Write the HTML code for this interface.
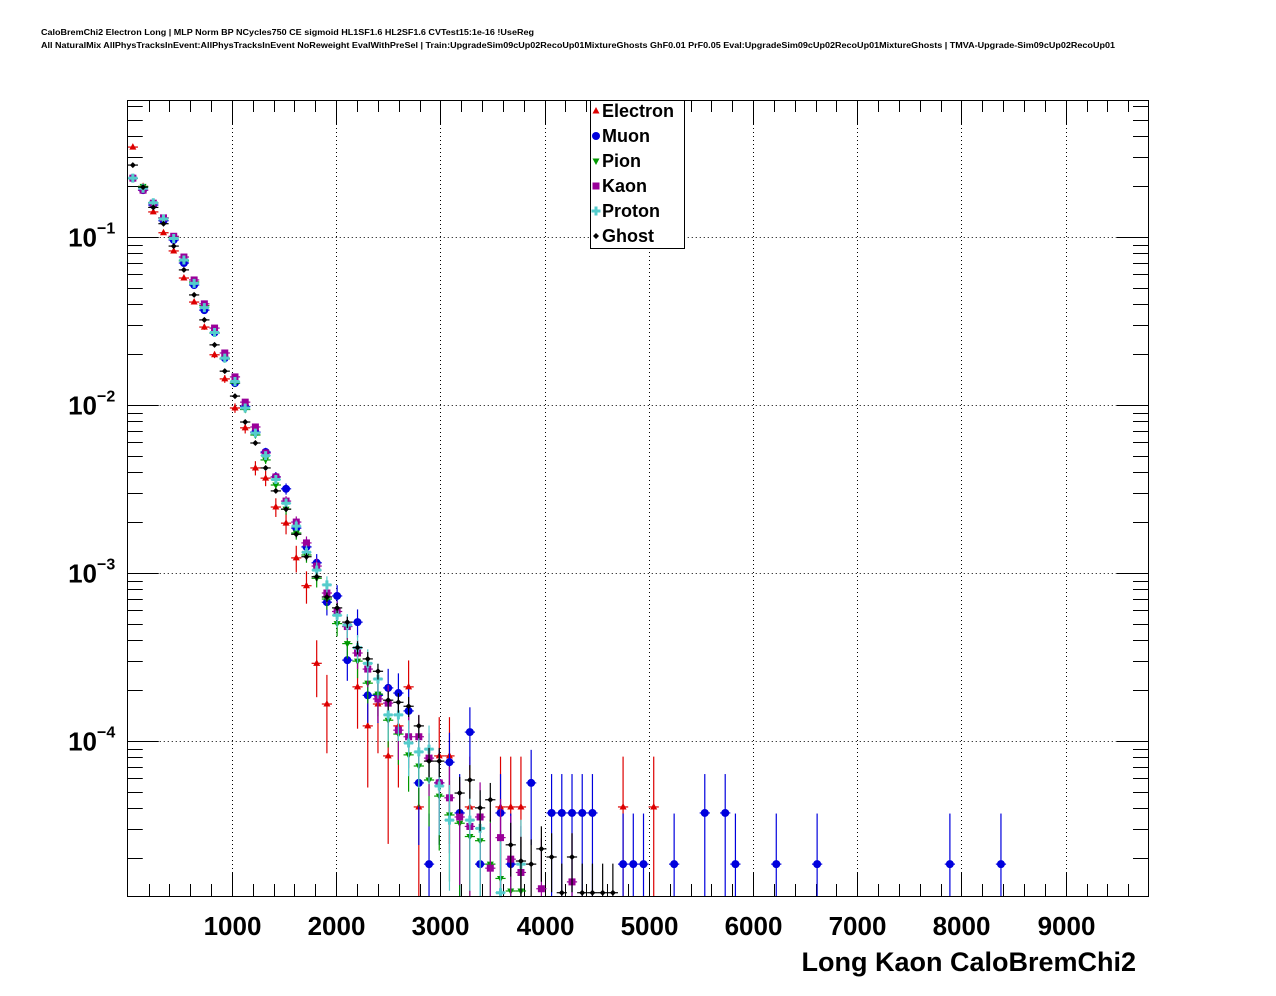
<!DOCTYPE html>
<html><head><meta charset="utf-8">
<style>
html,body{margin:0;padding:0;background:#fff;}
svg{display:block;font-family:"Liberation Sans",Arial,sans-serif;}
</style></head>
<body>
<svg id="chart" width="1276" height="996" viewBox="0 0 1276 996" xmlns="http://www.w3.org/2000/svg">
<rect x="0" y="0" width="1276" height="996" fill="#fff"/>
<text x="41" y="35" font-size="8" font-weight="bold" textLength="493" lengthAdjust="spacingAndGlyphs">CaloBremChi2 Electron Long | MLP Norm BP NCycles750 CE sigmoid HL1SF1.6 HL2SF1.6 CVTest15:1e-16 !UseReg</text>
<text x="41" y="48" font-size="8" font-weight="bold" textLength="1074" lengthAdjust="spacingAndGlyphs">All NaturalMix AllPhysTracksInEvent:AllPhysTracksInEvent NoReweight EvalWithPreSel | Train:UpgradeSim09cUp02RecoUp01MixtureGhosts GhF0.01 PrF0.05 Eval:UpgradeSim09cUp02RecoUp01MixtureGhosts | TMVA-Upgrade-Sim09cUp02RecoUp01</text>
<g id="grid"></g>
<g id="axes"></g>
<g id="marks"></g>
<rect x="127.5" y="100.5" width="1021" height="796" fill="none" stroke="#000" stroke-width="1"/>
<g id="legend"></g>
<text x="1136" y="971" font-size="27" font-weight="bold" text-anchor="end">Long Kaon CaloBremChi2</text>
</svg>
<script>
// ---- data ----
const binWidth = 98;
const xTicks = [1000,2000,3000,4000,5000,6000,7000,8000,9000];
const yDecades = [-1,-2,-3,-4];
const seriesNames = ["Electron","Muon","Pion","Kaon","Proton","Ghost"];
const electron = [.343,.2,.141,.106,.0826,.057,.041,.0291,.0199,.0143,.0096,.00731,.00422,.00367,.00247,.00198,.00123,.00084,.00029,.000166,null,null,.00021,.000123,.000166,.0000815,.000123,.00021,.0000405,null,.0000815,.0000815,null,.0000405,null,null,.0000405,.0000405,.0000405,null,null,null,null,null,null,null,null,null,.0000405,null,null,.0000405];
const muon = [.224,.19,.155,.125,.096,.07,.0518,.0367,.027,.019,.0135,.0098,.0069,.00525,.00373,.00317,.00185,.00143,.00115,.00067,.00073,.000303,.00051,.000187,.000187,.000207,.000193,.000151,.0000563,.0000185,.0000563,.0000748,.0000373,.000113,.0000185,null,.0000373,.0000185,null,.0000563,null,.0000373,.0000373,.0000373,.0000373,.0000373,null,null,.0000185,.0000185,.0000185,null,null,.0000185,null,null,.0000373,null,.0000373,.0000185,null,null,null,.0000185,null,null,null,.0000185,null,null,null,null,null,null,null,null,null,null,null,null,.0000185,null,null,null,null,.0000185];
const pion = [.224,.2,.16,.13,.1,.072,.054,.039,.0268,.0188,.0135,.0094,.00663,.00471,.00334,.0024,.00173,.00128,.00093,.0007,.0005,.00038,.000299,.000221,.00019,.000133,.00011,.0000827,.000071,.0000586,.000047,.0000363,.0000324,.000027,.0000255,.0000185,.0000152,.0000128,.0000128];
const kaon = [.224,.19,.159,.13,.101,.076,.0555,.04,.0287,.0204,.0147,.0104,.0074,.00518,.00373,.00268,.00201,.00151,.0011,.00076,.00059,.00048,.000334,.000268,.000178,.000168,.000116,.000106,.000106,.0000791,.0000563,.0000459,.0000353,.000031,.0000353,.0000175,.0000266,.0000198,.0000165,null,.0000132,null,null,.0000145];
const proton = [.224,.195,.16,.128,.098,.073,.053,.038,.027,.019,.0138,.0096,.0068,.005,.0036,.0026,.0019,.00133,.00104,.00085,.00056,.00049,.000359,.00029,.000234,.000143,.000143,.0000973,.0000861,.0000895,.000054,.0000338,null,.0000338,.0000302,null,.0000125,null,.0000185];
const ghost = [.268,.198,.15,.12,.0883,.0637,.0452,.0321,.0228,.0159,.0113,.00792,.00594,.00422,.00308,.0024,.0017,.00125,.00095,.00072,.00062,.00051,.00036,.000308,.00026,.000175,.00017,.000161,.000123,.0000759,.0000759,null,.000049,.0000586,.00004,.0000447,null,.0000241,.0000193,.0000185,.0000228,.0000204,.0000125,.0000204,.0000125,.0000125,.0000125,.0000125];
const entryWeight = [4e-5,1.85e-5,1.3e-5,1.3e-5,1.3e-5,3e-6];

// ---- layout ----
const X0=127.75, X1=1148, Y0=100, Y1=896;
const xMin=0, xMax=9790;
function xs(v){return X0+(v-xMin)/(xMax-xMin)*(X1-X0);}
function ys(v){return 237+(-1-Math.log10(v))*168;}
const NS="http://www.w3.org/2000/svg";
function mk(parent,tag,attrs){const e=document.createElementNS(NS,tag);for(const k in attrs)e.setAttribute(k,attrs[k]);parent.appendChild(e);return e;}

const grid=document.getElementById('grid'), axes=document.getElementById('axes'), marks=document.getElementById('marks'), legend=document.getElementById('legend');

xTicks.forEach(t=>{
  const x=Math.round(xs(t))+0.5;
  const g=mk(grid,'line',{x1:x,x2:x,y1:Y0,y2:Y1,stroke:'#000','stroke-width':1,'stroke-dasharray':'1,3'});
  
  
  const lb=mk(axes,'text',{x:x,y:935,'font-size':26,'font-weight':'bold','text-anchor':'middle'});
  lb.textContent=t;
  
  
});
for(let t=200;t<xMax;t+=200){
  const x=Math.round(xs(t))+0.5;
  const len=(t%1000===0)?24:12;
  const tk=mk(axes,'line',{x1:x,x2:x,y1:Y1,y2:Y1-len,stroke:'#000','stroke-width':1});
  
  
  const tk2=mk(axes,'line',{x1:x,x2:x,y1:Y0,y2:Y0+len,stroke:'#000','stroke-width':1});
  
  
}
yDecades.forEach(d=>{
  const y=Math.round(ys(Math.pow(10,d)))+0.5;
  const g=mk(grid,'line',{x1:X0,x2:X1,y1:y,y2:y,stroke:'#000','stroke-width':1,'stroke-dasharray':'1,3'});
  
  
  const lb=mk(axes,'text',{x:97,y:y+9,'font-size':26,'font-weight':'bold','text-anchor':'end'});
  lb.textContent='10';
  
  
  const ex=mk(axes,'text',{x:97,y:y-4,'font-size':16,'font-weight':'bold'});
  ex.textContent='\u2212'+(-d);
  
  
});
for(let d=0;d>=-5;d--){
  for(let m=1;m<=9;m++){
    const v=m*Math.pow(10,d-1);
    const y=ys(v);
    if(y<Y0||y>Y1)continue;
    const len=(m===1)?31:15;
    const yy=Math.round(y)+0.5;
    const t1=mk(axes,'line',{x1:X0,x2:X0+len,y1:yy,y2:yy,stroke:'#000','stroke-width':1});
    
    
    const t2=mk(axes,'line',{x1:X1,x2:X1-len,y1:yy,y2:yy,stroke:'#000','stroke-width':1});
    
    
  }
}

const colors=['#dd0000','#0000dd','#009900','#990099','#55cccc','#000000'];
const allSeries=[electron,muon,pion,kaon,proton,ghost];

function marker(parent,type,x,y,c){
  let e;
  if(type===0) e=mk(parent,'polygon',{points:`${x},${y-4} ${x-3.5},${y+2.5} ${x+3.5},${y+2.5}`,fill:c});
  else if(type===1) e=mk(parent,'circle',{cx:x,cy:y,r:4,fill:c});
  else if(type===2) e=mk(parent,'polygon',{points:`${x},${y+4} ${x-3.5},${y-2.5} ${x+3.5},${y-2.5}`,fill:c});
  else if(type===3) e=mk(parent,'rect',{x:x-3.5,y:y-3.5,width:7,height:7,fill:c});
  else if(type===4) e=mk(parent,'path',{d:`M${x-1.5},${y-4.5}h3v3h3v3h-3v3h-3v-3h-3v-3h3z`,fill:c});
  else e=mk(parent,'polygon',{points:`${x},${y-3} ${x+3},${y} ${x},${y+3} ${x-3},${y}`,fill:c});
  return e;
}

allSeries.forEach((arr,si)=>{
  const g=mk(marks,'g',{});
  
  
  const c=colors[si];
  arr.forEach((v,k)=>{
    if(v==null)return;
    const xc=(k+0.5)*binWidth;
    const x=xs(xc), y=ys(v);
    if(y>Y1+3)return;
    const sig=Math.sqrt(v*entryWeight[si]);
    const yt=Math.max(Y0,ys(v+sig));
    const yb=(v-sig>1e-8)?Math.min(Y1,ys(v-sig)):Y1;
    const eb=mk(g,'line',{x1:x,x2:x,y1:yt,y2:yb,stroke:c,'stroke-width':1.2});
    
    
    const hb=mk(g,'line',{x1:xs(xc-binWidth/2),x2:xs(xc+binWidth/2),y1:y,y2:y,stroke:c,'stroke-width':1.2});
    
    
    const m=marker(g,si,x,y,c);
    
    
  });
});

const lbox=mk(legend,'rect',{x:590.5,y:100.5,width:94,height:148,fill:'#fff',stroke:'#000','stroke-width':1});


seriesNames.forEach((n,i)=>{
  const y=111+i*25;
  const m=marker(legend,i,596,y,colors[i]);
  
  
  const t=mk(legend,'text',{x:602,y:y+6,'font-size':18,'font-weight':'bold'});
  t.textContent=n;
  
  
});
</script>
</body></html>
